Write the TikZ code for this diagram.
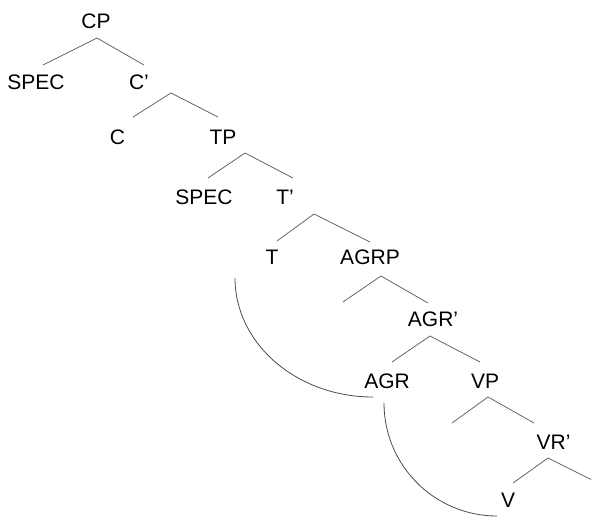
\documentclass[tikz,border=0pt]{standalone}
\usepackage{fontspec}
\setmainfont{Liberation Sans}
\begin{document}
\begin{tikzpicture}[x=1pt,y=-1pt]
    \tikzstyle{word}=[inner sep=0pt,font=\fontsize{21}{25}\selectfont]
    \tikzstyle{treeline}=[draw=black!60,line width=0.8pt]
    \tikzstyle{moveline}=[draw=black!70,line width=0.8pt]
    \useasboundingbox (0,0) rectangle (591,517);
    % labels
    \node[word] (cp) at (96,21.5) {CP};
    \node[word] (spec1) at (36,82.5) {SPEC};
    \node[word] (cbar) at (139,82.5) {C'};
    \node[word] (c) at (117.5,137) {C};
    \node[word] (tp) at (223,137) {TP};
    \node[word] (spec2) at (204,197) {SPEC};
    \node[word] (tbar) at (285,197) {T'};
    \node[word] (t) at (272,257.5) {T};
    \node[word] (agrp) at (370,257.5) {AGRP};
    \node[word] (agrbar) at (433,319.5) {AGR'};
    \node[word] (agr) at (387,381.5) {AGR};
    \node[word] (vp) at (485,381.5) {VP};
    \node[word] (vrbar) at (553.5,442.5) {VR'};
    \node[word] (v) at (508,500.5) {V};
    % branches
    \begin{scope}
        \coordinate (cp-top) at (97,38);
        \coordinate (cp-l) at (43,65);
        \coordinate (cp-r) at (144,65);
        \draw[treeline] (cp-l) -- (cp-top) -- (cp-r);
        \coordinate (cbar-top) at (171,93);
        \coordinate (cbar-l) at (133,117);
        \coordinate (cbar-r) at (218,117);
        \draw[treeline] (cbar-l) -- (cbar-top) -- (cbar-r);
        \coordinate (tp-top) at (245,153);
        \coordinate (tp-l) at (208,178);
        \coordinate (tp-r) at (293,178);
        \draw[treeline] (tp-l) -- (tp-top) -- (tp-r);
        \coordinate (tbar-top) at (314,214);
        \coordinate (tbar-l) at (277,241);
        \coordinate (tbar-r) at (370,242);
        \draw[treeline] (tbar-l) -- (tbar-top) -- (tbar-r);
        \coordinate (agrp-top) at (381,276);
        \coordinate (agrp-l) at (343,302);
        \coordinate (agrp-r) at (428,303);
        \draw[treeline] (agrp-l) -- (agrp-top) -- (agrp-r);
        \coordinate (agrbar-top) at (430,336);
        \coordinate (agrbar-l) at (392,362);
        \coordinate (agrbar-r) at (480,362);
        \draw[treeline] (agrbar-l) -- (agrbar-top) -- (agrbar-r);
        \coordinate (vp-top) at (488,397);
        \coordinate (vp-l) at (452,423);
        \coordinate (vp-r) at (534,423);
        \draw[treeline] (vp-l) -- (vp-top) -- (vp-r);
        \coordinate (vrbar-top) at (548,458);
        \coordinate (vrbar-l) at (513,483);
        \coordinate (vrbar-r) at (592,480);
        \draw[treeline] (vrbar-l) -- (vrbar-top) -- (vrbar-r);
    \end{scope}
    % movement arcs
    \begin{scope}
        \coordinate (t-from) at (235,278);
        \draw[moveline] (t-from) arc[start angle=180,end angle=90,x radius=138,y radius=119] coordinate (agr-to);
        \coordinate (agr-from) at (384,403);
        \draw[moveline] (agr-from) arc[start angle=180,end angle=90,radius=113] coordinate (v-to);
    \end{scope}
\end{tikzpicture}
\end{document}
